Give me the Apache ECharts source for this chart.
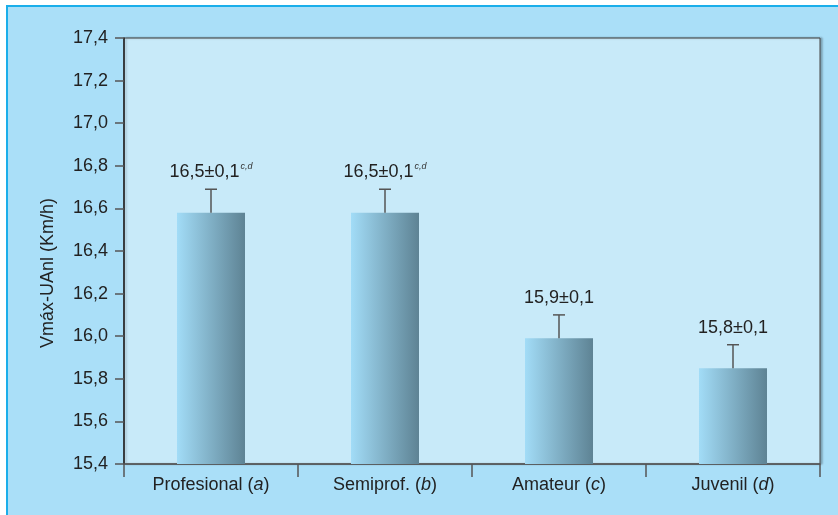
<!DOCTYPE html>
<html>
<head>
<meta charset="utf-8">
<script src="https://cdn.jsdelivr.net/npm/echarts@6/dist/echarts.min.js"></script>
<style>
html,body{margin:0;padding:0;background:#fff;}
#chart{width:838px;height:515px;}
</style>
</head>
<body>
<div id="chart"></div>
<script>
const categories = ['Profesional', 'Semiprof.', 'Amateur', 'Juvenil'];
const letters = ['a', 'b', 'c', 'd'];
const means = [16.58, 16.58, 15.99, 15.85];
const errors = [0.11, 0.11, 0.11, 0.11];
const labelTexts = ['16,5±0,1', '16,5±0,1', '15,9±0,1', '15,8±0,1'];
const labelSups = ['c,d', 'c,d', '', ''];
const yMin = 15.4, yMax = 17.4, yStep = 0.2;
const yTitle = 'Vmáx-UAnl (Km/h)';

const FONT = '"Liberation Sans", Arial, Helvetica, sans-serif';
const chart = echarts.init(document.getElementById('chart'));

const option = {
  backgroundColor: '#ffffff',
  animation: false,
  textStyle: { fontFamily: FONT },
  graphic: [
    {
      type: 'rect', z: -10, silent: true,
      shape: { x: 7, y: 6, width: 850, height: 530 },
      style: { fill: '#aadff8', stroke: '#1aaeea', lineWidth: 2 }
    },
    {
      type: 'text', silent: true,
      x: 48, y: 273, rotation: Math.PI / 2,
      style: {
        text: yTitle, fontSize: 18, fontFamily: FONT, fill: '#222',
        align: 'center', verticalAlign: 'middle'
      }
    }
  ],
  grid: {
    left: 124, right: 18, top: 38, bottom: 51,
    show: true, backgroundColor: '#c8eaf9', borderColor: '#444', borderWidth: 1,
    shadowColor: 'rgba(0,0,0,0.25)', shadowOffsetX: 2, shadowOffsetY: 0, shadowBlur: 2,
    outerBoundsMode: 'none'
  },
  xAxis: {
    type: 'category',
    data: categories,
    axisLine: { lineStyle: { color: '#555', width: 1.5 } },
    axisTick: { show: true, interval: 0, length: 13, alignWithLabel: false, lineStyle: { color: '#555', width: 1.5 } },
    axisLabel: {
      interval: 0,
      margin: 12,
      formatter: function (v, i) { return v + ' ({i|' + letters[i] + '})'; },
      fontSize: 18, color: '#222', fontFamily: FONT,
      rich: { i: { fontSize: 18, fontStyle: 'italic', color: '#222', fontFamily: FONT } }
    },
    splitLine: { show: false }
  },
  yAxis: {
    type: 'value',
    min: yMin, max: yMax, interval: yStep,
    axisLine: { show: true, lineStyle: { color: '#222', width: 1.5 } },
    axisTick: { show: true, length: 9, lineStyle: { color: '#555', width: 1.5 } },
    axisLabel: {
      margin: 16, fontSize: 18, color: '#222', fontFamily: FONT,
      formatter: function (v) { return v.toFixed(1).replace('.', ','); }
    },
    splitLine: { show: false }
  },
  series: [
    {
      type: 'bar',
      data: means,
      barWidth: 68,
      itemStyle: {
        color: {
          type: 'linear', x: 0, y: 0, x2: 1, y2: 0,
          colorStops: [
            { offset: 0, color: '#a2dcf7' },
            { offset: 1, color: '#5e8394' }
          ]
        }
      },
      z: 2
    },
    {
      type: 'custom',
      z: 3,
      data: means.map(function (m, i) { return [i, m, errors[i]]; }),
      encode: { x: 0, y: 1 },
      renderItem: function (params, api) {
        const i = api.value(0);
        const m = api.value(1);
        const e = api.value(2);
        const base = api.coord([i, m]);
        const top = api.coord([i, m + e]);
        const cap = 6;
        const sup = labelSups[i];
        const txt = '{m|' + labelTexts[i] + '}' + (sup ? '{s|' + sup + '}' : '');
        return {
          type: 'group',
          children: [
            { type: 'line', shape: { x1: base[0], y1: base[1], x2: top[0], y2: top[1] },
              style: { stroke: '#555', lineWidth: 1.5 } },
            { type: 'line', shape: { x1: top[0] - cap, y1: top[1], x2: top[0] + cap, y2: top[1] },
              style: { stroke: '#555', lineWidth: 1.5 } },
            { type: 'text', x: top[0], y: top[1] - 7,
              style: {
                text: txt, align: 'center', verticalAlign: 'bottom',
                rich: {
                  m: { fontSize: 18, fill: '#222', fontFamily: FONT, lineHeight: 20 },
                  s: { fontSize: 9, fill: '#333', fontStyle: 'italic', fontFamily: FONT, verticalAlign: 'top', lineHeight: 20, padding: [0, 0, 0, 1] }
                }
              } }
          ]
        };
      }
    }
  ]
};
chart.setOption(option);
</script>
</body>
</html>
